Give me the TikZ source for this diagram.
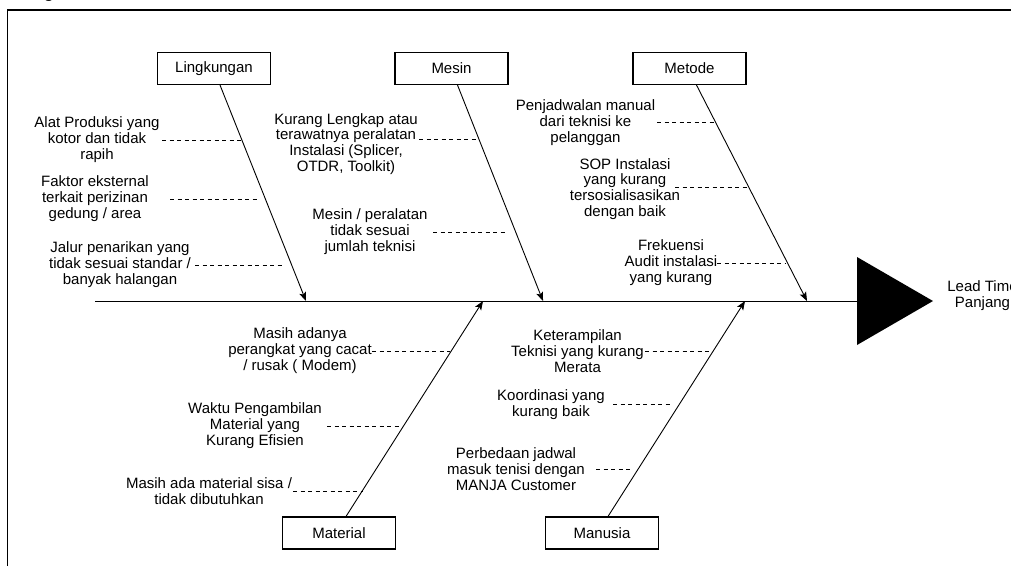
\documentclass[tikz,border=0pt]{standalone}
\usepackage{fontspec}
\setmainfont{Liberation Sans}
\usetikzlibrary{arrows.meta,calc}
\begin{document}
\begin{tikzpicture}[x=1pt,y=-1pt,
  txt/.style={font=\fontsize{15}{15.9}\selectfont, text=black},
  cat/.style={txt, draw, line width=1.1pt, minimum width=113pt, minimum height=32pt, inner sep=0pt},
  cause/.style={txt, align=center, inner sep=0pt},
  bone/.style={line width=0.9pt, -{Stealth[length=9pt,width=7pt,inset=2pt]}},
  sub/.style={line width=0.8pt, dash pattern=on 4pt off 3.5pt},
]
\clip (0,0) rectangle (1011,566);
\useasboundingbox (0,0) rectangle (1011,566);

% frame and cut caption
\draw[line width=1.2pt] (7.5,566) -- (7.5,10) -- (1011,10);
\node[anchor=base, inner sep=0pt, font=\fontsize{19}{20}\selectfont] (capg) at (49,-3) {g};

% spine and head
\coordinate (tail) at (95,301);
\coordinate (headL) at (857,301);
\draw[line width=1pt] (tail) -- (headL);
\fill (857,257) -- (857,345) -- (933,301) -- cycle;
\node[cause] (effect) at (982.5,296) {Lead Time\\Panjang};

% category boxes
\node[cat] (ling) at (214,68.5) {Lingkungan};
\node[cat] (mesin) at (451.5,68.5) {Mesin};
\node[cat] (metode) at (689.5,68.5) {Metode};
\node[cat] (mat) at (339,533) {Material};
\node[cat] (man) at (602,533) {Manusia};

% tips on spine
\coordinate (t1) at (306,301);
\coordinate (t2) at (543,301);
\coordinate (t3) at (807,301);
\coordinate (t4) at (483,301);
\coordinate (t5) at (745,301);

\draw[bone] ([xshift=6pt]ling.south) -- (t1);
\draw[bone] ([xshift=6pt]mesin.south) -- (t2);
\draw[bone] ([xshift=7pt]metode.south) -- (t3);
\draw[bone] ([xshift=7pt]mat.north) -- (t4);
\draw[bone] ([xshift=6pt]man.north) -- (t5);

% causes
\node[cause] (c1) at (97,140) {Alat Produksi yang\\kotor dan tidak\\rapih};
\node[cause] (c2) at (95,199) {Faktor eksternal\\terkait perizinan\\gedung / area};
\node[cause] (c3) at (120,265) {Jalur penarikan yang\\tidak sesuai standar /\\banyak halangan};
\node[cause] (c4) at (346,144) {Kurang Lengkap atau\\terawatnya peralatan\\Instalasi (Splicer,\\OTDR, Toolkit)};
\node[cause] (c5) at (370,232) {Mesin / peralatan\\tidak sesuai\\jumlah teknisi};
\node[cause] (c6) at (585.5,123) {Penjadwalan manual\\dari teknisi ke\\pelanggan};
\node[cause] (c7) at (625,189) {SOP Instalasi\\yang kurang\\tersosialisasikan\\dengan baik};
\node[cause] (c8) at (671,263) {Frekuensi\\Audit instalasi\\yang kurang};
\node[cause] (c9) at (300,351) {Masih adanya\\perangkat yang cacat\\/ rusak ( Modem)};
\node[cause] (c10) at (255,426) {Waktu Pengambilan\\Material yang\\Kurang Efisien};
\node[cause] (c11) at (209,491) {Masih ada material sisa /\\tidak dibutuhkan};
\node[cause] (c12) at (577.5,351) {Keterampilan\\Teknisi yang kurang\\Merata};
\node[cause] (c13) at (551,405) {Koordinasi yang\\kurang baik};
\node[cause] (c14) at (516,469) {Perbedaan jadwal\\masuk tenisi dengan\\MANJA Customer};

% dashed sub-branches
\coordinate (d1a) at (162,140);  \coordinate (d1b) at (241,140);
\coordinate (d2a) at (170,199);  \coordinate (d2b) at (258,199);
\coordinate (d3a) at (195,265);  \coordinate (d3b) at (283,265);
\coordinate (d4a) at (419,139);  \coordinate (d4b) at (478,139);
\coordinate (d5a) at (433,232);  \coordinate (d5b) at (505,232);
\coordinate (d6a) at (657,122);  \coordinate (d6b) at (715,122);
\coordinate (d7a) at (675,187);  \coordinate (d7b) at (748,187);
\coordinate (d8a) at (717,263);  \coordinate (d8b) at (786,263);
\coordinate (d9a) at (372,351);  \coordinate (d9b) at (450,351);
\coordinate (d10a) at (327,426); \coordinate (d10b) at (402,426);
\coordinate (d11a) at (293,491); \coordinate (d11b) at (363,491);
\coordinate (d12a) at (645,351); \coordinate (d12b) at (712,351);
\coordinate (d13a) at (613,404); \coordinate (d13b) at (670,404);
\coordinate (d14a) at (596,469); \coordinate (d14b) at (630,469);
\foreach \i in {1,...,14} { \draw[sub] (d\i a) -- (d\i b); }
\end{tikzpicture}
\end{document}
